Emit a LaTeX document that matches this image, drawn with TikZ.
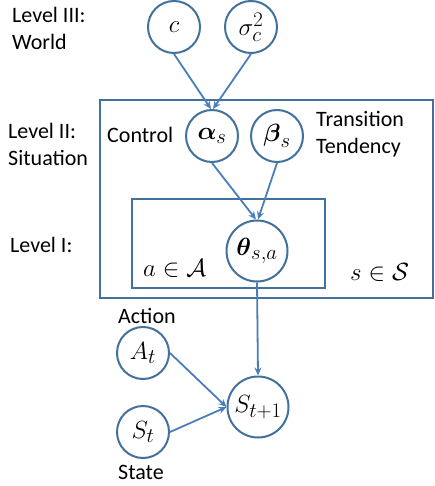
\documentclass[tikz,border=0pt]{standalone}
\usepackage{amsmath,amssymb}
\usepackage{fontspec}
\setmainfont{Carlito}
\usetikzlibrary{arrows.meta}

\DeclareMathSizes{27}{27}{21}{16}
\DeclareMathSizes{24}{24}{18}{14}

\definecolor{nodeblue}{HTML}{41719C}
\definecolor{arrowblue}{HTML}{4A7EBB}

\tikzset{
  var/.style={circle, draw=nodeblue, line width=2pt, minimum size=52pt,
    inner sep=0pt, font=\fontsize{27}{30}\selectfont},
  bigvar/.style={var, minimum size=61pt},
  plate/.style={draw=nodeblue, line width=2pt},
  edge/.style={draw=arrowblue, line width=1.8pt,
    -{Stealth[length=8pt,width=7pt]}},
  lbl/.style={font=\fontsize{22}{27}\selectfont, align=left,
    inner sep=0pt, anchor=west}
}

\begin{document}
\begin{tikzpicture}[x=1pt, y=-1pt]
    \useasboundingbox (0, 0) rectangle (434, 486);

    % Plaques
    \draw[plate] (100, 100) rectangle (432.5, 297.5);
    \draw[plate] (132, 199) rectangle (325, 288);

    % Niveau III
    \node[lbl] (lvlthree) at (12, 28) {Level III:\\World};
    \node[var] (c) at (174, 27) {$c$};
    \node[var] (sigma) at (251, 27) {$\sigma_c^2$};

    % Niveau II
    \node[lbl] (lvltwo) at (8, 144) {Level II:\\Situation};
    \node[lbl] (control) at (107, 135) {Control};
    \node[lbl] (transition) at (316, 134) {Transition\\Tendency};
    \node[var] (alpha) at (212, 136) {$\boldsymbol{\alpha}_s$};
    \node[var] (beta) at (277, 136) {$\boldsymbol{\beta}_s$};

    % Niveau I
    \node[lbl] (lvlone) at (10, 245) {Level I:};
    \node[bigvar] (theta) at (257, 251) {$\boldsymbol{\theta}_{s,a}$};
    \node[lbl, font=\fontsize{24}{27}\selectfont] (inA) at (143, 268)
    {$a \in \mathcal{A}$};
    \node[lbl, font=\fontsize{24}{27}\selectfont] (inS) at (350, 272)
    {$s \in \mathcal{S}$};

    % Transition
    \node[lbl] (action) at (118, 316) {Action};
    \node[lbl] (state) at (118, 472) {State};
    \node[var] (At) at (143, 353) {$A_t$};
    \node[var] (St) at (143, 432) {$S_t$};
    \node[bigvar] (Snext) at (258, 407) {$S_{t+1}$};

    % Fleches
    \draw[edge] (c.south) -- ([xshift=-1pt]alpha.north);
    \draw[edge] (sigma.south) -- ([xshift=1pt]alpha.north);
    \draw[edge] (alpha.south) -- ([xshift=-1pt]theta.north);
    \draw[edge] (beta.south) -- ([xshift=1pt]theta.north);
    \draw[edge] (theta.south) -- (Snext.north);
    \draw[edge] (At.east) -- (Snext.west);
    \draw[edge] (St.east) -- (Snext.west);
  \end{tikzpicture}
\end{document}
